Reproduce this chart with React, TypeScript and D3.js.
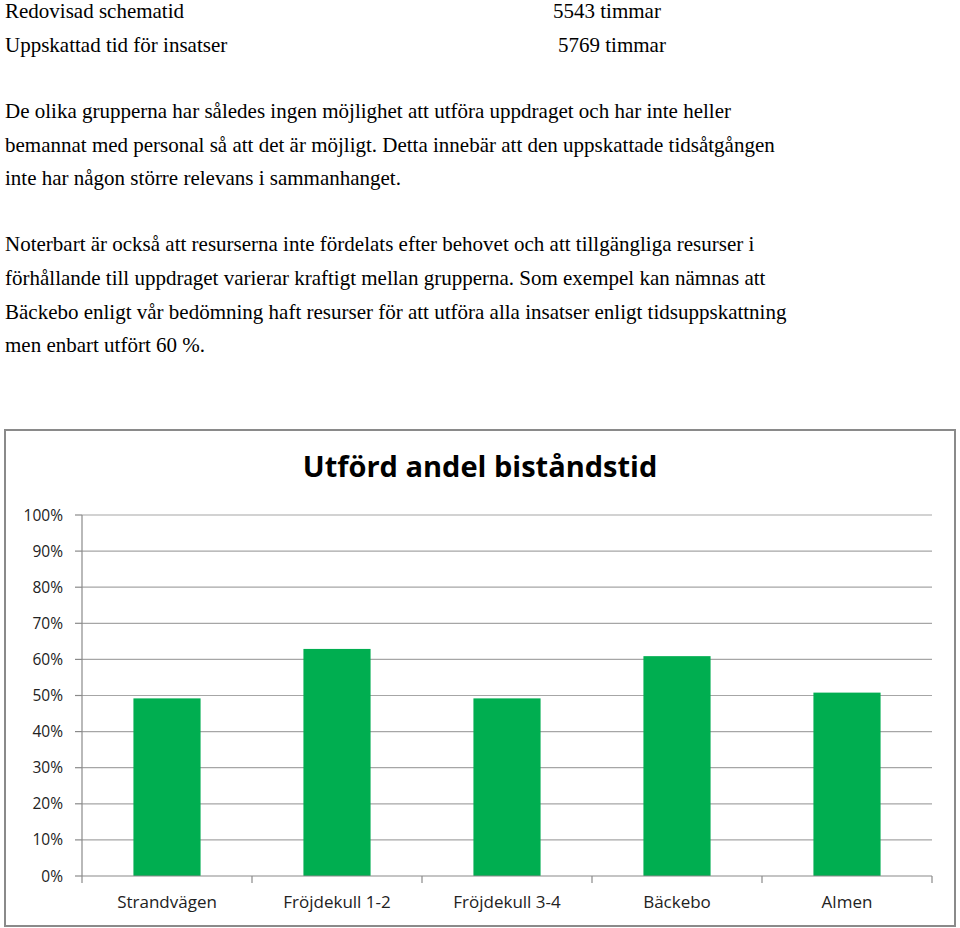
import React from "react";
import * as d3 from "d3";

const topLabels = ["Redovisad schematid", "Uppskattad tid för insatser"];
const topValues = ["5543 timmar", "5769 timmar"];
const paragraph1 = [
  "De olika grupperna har således ingen möjlighet att utföra uppdraget och har inte heller",
  "bemannat med personal så att det är möjligt. Detta innebär att den uppskattade tidsåtgången",
  "inte har någon större relevans i sammanhanget.",
];
const paragraph2 = [
  "Noterbart är också att resurserna inte fördelats efter behovet och att tillgängliga resurser i",
  "förhållande till uppdraget varierar kraftigt mellan grupperna. Som exempel kan nämnas att",
  "Bäckebo enligt vår bedömning haft resurser för att utföra alla insatser enligt tidsuppskattning",
  "men enbart utfört 60 %.",
];

const chartTitle = "Utförd andel biståndstid";
const categories = ["Strandvägen", "Fröjdekull 1-2", "Fröjdekull 3-4", "Bäckebo", "Almen"];
const values = [0.492, 0.629, 0.492, 0.609, 0.508];
const yTicks = [0, 0.1, 0.2, 0.3, 0.4, 0.5, 0.6, 0.7, 0.8, 0.9, 1.0];

export default function App() {
  const W = 960;
  const H = 928;
  const plot = { left: 82, right: 932, top: 515, bottom: 876 };

  const x = d3
    .scaleBand<string>()
    .domain(categories)
    .range([plot.left, plot.right])
    .padding(0);
  const y = d3.scaleLinear().domain([0, 1]).range([plot.bottom, plot.top]);
  const barW = x.bandwidth() * 0.395;
  const pct = d3.format(".0%");

  const serifFont = '"Times New Roman"';
  const sansFont = '"Open Sans"';

  const boundaries = categories.map((c) => x(c) as number).concat([plot.right]);

  return (
    <svg
      width={W}
      height={H}
      style={{ position: "absolute", left: 0, top: 0, background: "#fff" }}
    >
      <rect x={0} y={0} width={W} height={H} fill="#fff" />
      {topLabels.map((t, i) => (
        <text key={"tl" + i} x={5} y={18 + i * 33.5} style={{ fontFamily: serifFont, fontSize: 21 }}>
          {t}
        </text>
      ))}
      {topValues.map((t, i) => (
        <text key={"tv" + i} x={i === 0 ? 553 : 558} y={18 + i * 33.5} style={{ fontFamily: serifFont, fontSize: 21 }}>
          {t}
        </text>
      ))}
      {paragraph1.map((t, i) => (
        <text key={"p1" + i} x={5} y={118 + i * 33.5} style={{ fontFamily: serifFont, fontSize: 21 }}>
          {t}
        </text>
      ))}
      {paragraph2.map((t, i) => (
        <text key={"p2" + i} x={5} y={251 + i * 33.8} style={{ fontFamily: serifFont, fontSize: 21 }}>
          {t}
        </text>
      ))}

      {/* chart frame */}
      <rect x={5} y={430} width={950} height={496} fill="#fff" stroke="#8a8a8a" strokeWidth={2} />
      <text
        x={480}
        y={477}
        textAnchor="middle"
        style={{ fontFamily: sansFont, fontWeight: "bold", fontSize: 29, fill: "#000" }}
      >
        {chartTitle}
      </text>

      {/* gridlines and y ticks */}
      {yTicks.map((t) => (
        <g key={"g" + t}>
          {t > 0 && (
            <line x1={plot.left} x2={plot.right} y1={y(t)} y2={y(t)} stroke="#a6a6a6" strokeWidth={1.2} />
          )}
          <line x1={plot.left - 7} x2={plot.left} y1={y(t)} y2={y(t)} stroke="#8a8a8a" strokeWidth={1.2} />
          <text
            x={63}
            y={y(t)}
            dy="0.36em"
            textAnchor="end"
            style={{ fontFamily: sansFont, fontSize: 15.5, fill: "#222" }}
          >
            {pct(t)}
          </text>
        </g>
      ))}

      {/* bars */}
      {categories.map((c, i) => {
        const cx = (x(c) as number) + x.bandwidth() / 2;
        return (
          <rect
            key={"b" + c}
            x={cx - barW / 2}
            y={y(values[i])}
            width={barW}
            height={y(0) - y(values[i])}
            fill="#00AE50"
          />
        );
      })}

      {/* axes */}
      <line x1={plot.left} x2={plot.left} y1={plot.top} y2={plot.bottom} stroke="#8a8a8a" strokeWidth={1.2} />
      <line x1={plot.left} x2={plot.right} y1={plot.bottom} y2={plot.bottom} stroke="#8a8a8a" strokeWidth={1.2} />
      {boundaries.map((bx, i) => (
        <line key={"xt" + i} x1={bx} x2={bx} y1={plot.bottom} y2={plot.bottom + 7} stroke="#8a8a8a" strokeWidth={1.2} />
      ))}
      {categories.map((c) => (
        <text
          key={"xl" + c}
          x={(x(c) as number) + x.bandwidth() / 2}
          y={908}
          textAnchor="middle"
          style={{ fontFamily: sansFont, fontSize: 17, fill: "#222" }}
        >
          {c}
        </text>
      ))}
    </svg>
  );
}
